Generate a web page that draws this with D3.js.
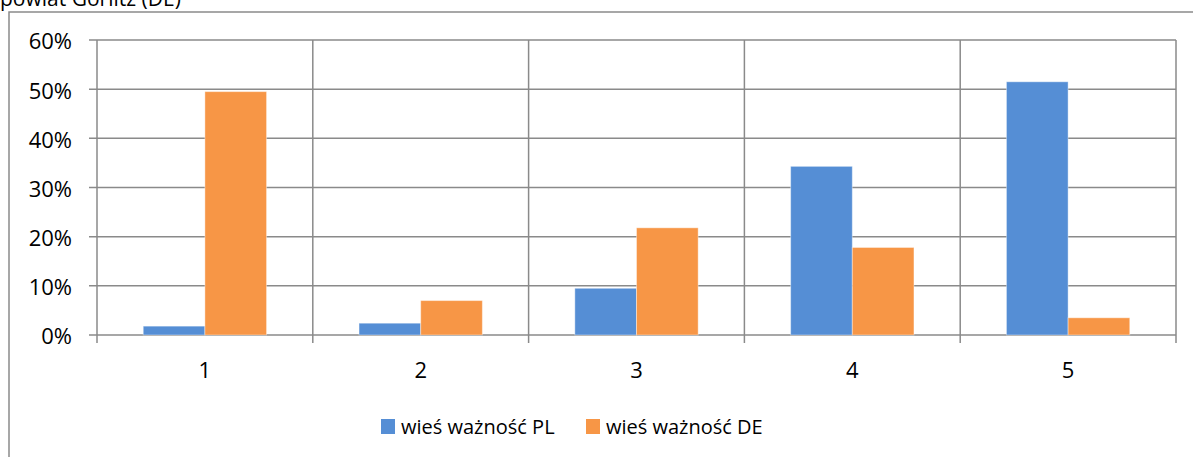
<!DOCTYPE html>
<html>
<head>
<meta charset="utf-8">
<script src="https://cdn.jsdelivr.net/npm/d3@7"></script>
<style>
  body { margin: 0; background: #fff; }
  svg { display: block; font-family: 'Open Sans', sans-serif; }
</style>
</head>
<body>
<div id="chart"></div>
<script>
// Chart data
const categories = ['1', '2', '3', '4', '5'];
const seriesNames = ['wieś ważność PL', 'wieś ważność DE'];
const plValues = [0.018, 0.024, 0.095, 0.343, 0.515];
const deValues = [0.495, 0.070, 0.218, 0.178, 0.035];
const yTicks = [0, 0.1, 0.2, 0.3, 0.4, 0.5, 0.6];
const colors = ['#558ed5', '#f79646'];

const width = 1193, height = 457;
const margin = { top: 40, right: 17, bottom: 122, left: 97 };
const gridColor = '#8a8a8a';

const svg = d3.select('#chart').append('svg')
    .attr('width', width)
    .attr('height', height);

// outer chart border (extends past the picture on right/bottom)
svg.append('rect')
    .attr('x', 9).attr('y', 12)
    .attr('width', 1300).attr('height', 600)
    .attr('fill', 'none')
    .attr('stroke', gridColor)
    .attr('stroke-width', 1.5);

// title, cut off at the top edge like in the source
svg.append('text')
    .attr('x', 0).attr('y', 6)
    .attr('font-size', '21px')
    .attr('fill', '#000')
    .text('powiat Görlitz (DE)');

const x0 = d3.scaleBand()
    .domain(categories)
    .range([margin.left, width - margin.right])
    .padding(0);

const x1 = d3.scaleBand()
    .domain(seriesNames)
    .range([0, x0.bandwidth()])
    .paddingInner(0)
    .paddingOuter(0.75);

const y = d3.scaleLinear()
    .domain([0, 0.6])
    .range([height - margin.bottom, margin.top]);

const plotBottom = y(0);

// horizontal gridlines + y ticks
const grid = svg.append('g');
grid.selectAll('line.h')
    .data(yTicks)
    .enter().append('line')
    .attr('class', 'h')
    .attr('x1', margin.left - 8)
    .attr('x2', width - margin.right)
    .attr('y1', d => y(d))
    .attr('y2', d => y(d))
    .attr('stroke', gridColor)
    .attr('stroke-width', 1.5);

// vertical gridlines at category boundaries
const bounds = categories.map(c => x0(c)).concat([x0(categories[categories.length - 1]) + x0.bandwidth()]);
grid.selectAll('line.v')
    .data(bounds)
    .enter().append('line')
    .attr('class', 'v')
    .attr('x1', d => d)
    .attr('x2', d => d)
    .attr('y1', margin.top)
    .attr('y2', plotBottom + 8)
    .attr('stroke', gridColor)
    .attr('stroke-width', 1.5);

// y labels
svg.append('g').selectAll('text')
    .data(yTicks)
    .enter().append('text')
    .attr('x', 72)
    .attr('y', d => y(d) + 1)
    .attr('dy', '0.38em')
    .attr('text-anchor', 'end')
    .attr('font-size', '22px')
    .attr('fill', '#000')
    .text(d3.format('.0%'));

// bars
const rows = categories.map((c, i) => ({ cat: c, values: [plValues[i], deValues[i]] }));
const groups = svg.append('g').selectAll('g')
    .data(rows)
    .enter().append('g')
    .attr('transform', d => `translate(${x0(d.cat)},0)`);

groups.selectAll('rect')
    .data(d => d.values.map((v, j) => ({ name: seriesNames[j], value: v, color: colors[j] })))
    .enter().append('rect')
    .attr('x', d => x1(d.name))
    .attr('y', d => y(d.value))
    .attr('width', x1.bandwidth())
    .attr('height', d => plotBottom - y(d.value))
    .attr('fill', d => d.color)
    .attr('stroke', '#fff')
    .attr('stroke-opacity', 0.4)
    .attr('stroke-width', 1);

// x labels
svg.append('g').selectAll('text')
    .data(categories)
    .enter().append('text')
    .attr('x', d => x0(d) + x0.bandwidth() / 2)
    .attr('y', 378)
    .attr('text-anchor', 'middle')
    .attr('font-size', '22px')
    .attr('fill', '#000')
    .text(d => d);

// legend
const legendX = [381, 586];
const legend = svg.append('g').selectAll('g')
    .data(seriesNames)
    .enter().append('g')
    .attr('transform', (d, i) => `translate(${legendX[i]},419)`);

legend.append('rect')
    .attr('width', 14)
    .attr('height', 15)
    .attr('fill', (d, i) => colors[i]);

legend.append('text')
    .attr('x', 20)
    .attr('y', 15)
    .attr('font-size', '20px')
    .attr('fill', '#000')
    .text(d => d);
</script>
</body>
</html>
